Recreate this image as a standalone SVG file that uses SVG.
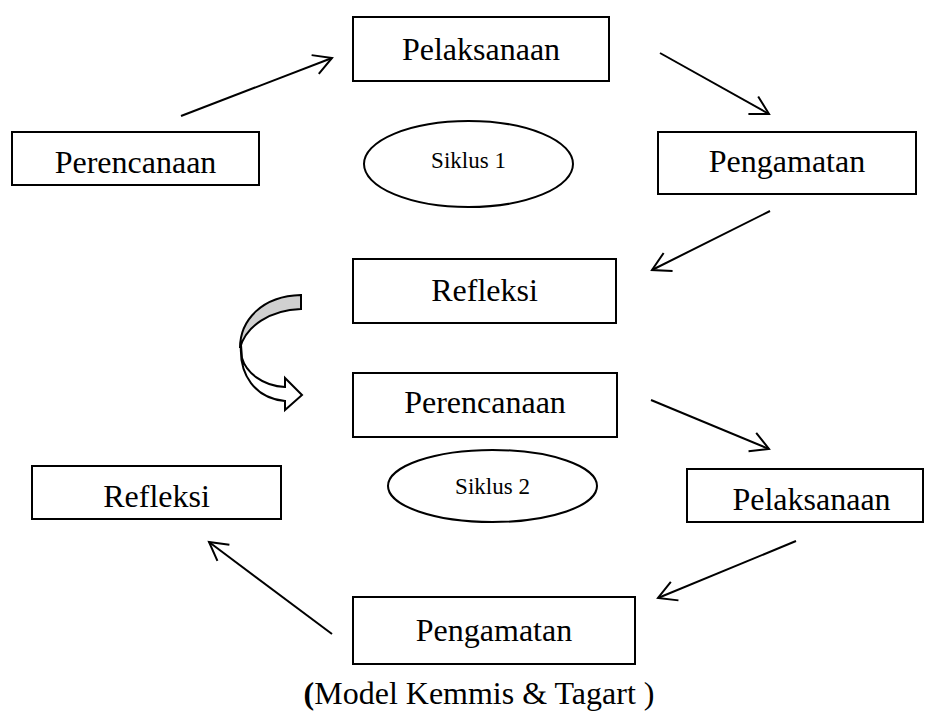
<svg xmlns="http://www.w3.org/2000/svg" width="926" height="711" viewBox="0 0 926 711">
<style>
.box{fill:#fff;stroke:#000;stroke-width:2}
.ell{fill:#fff;stroke:#000;stroke-width:2}
.t{font-family:"Liberation Serif","Times New Roman",serif;font-size:32px;fill:#000;text-anchor:middle}
.s{font-family:"Liberation Serif","Times New Roman",serif;font-size:23px;fill:#000;text-anchor:middle}
.arr{fill:none;stroke:#000;stroke-width:2;marker-end:url(#ah)}
</style>
<defs>
<marker id="ah" markerUnits="userSpaceOnUse" viewBox="-22 -12 24 24" refX="0" refY="0" markerWidth="24" markerHeight="24" orient="auto" overflow="visible">
<path d="M-18,-10 L0,0 L-18,10" fill="none" stroke="#000" stroke-width="2"/>
</marker>
</defs>
<g id="connectors">
<line class="arr" x1="181" y1="116" x2="332" y2="58"/>
<line class="arr" x1="660" y1="53" x2="769" y2="114"/>
<line class="arr" x1="770" y1="211" x2="652" y2="270"/>
<line class="arr" x1="651" y1="400" x2="769" y2="449"/>
<line class="arr" x1="332" y1="634" x2="209" y2="542"/>
<line class="arr" x1="796" y1="541" x2="658" y2="598"/>
<g id="curved-arrow" stroke="#000" stroke-width="2" stroke-linejoin="miter">
<path d="M301,295 C262,296 240,320 240,348 C246,326 270,310 301,309 Z" fill="#d0d0d0"/>
<path d="M241,345 C239,375 255,398 285,401 L285,410 L302,395 L285,378 L285,387 C262,386 246,372 242,358 Z" fill="#fff"/>
</g>
</g>
<g id="perencanaan1"><rect class="box" x="12" y="132" width="247" height="53"/><text class="t" x="135.5" y="173">Perencanaan</text></g>
<g id="pelaksanaan1"><rect class="box" x="353" y="17" width="256" height="64"/><text class="t" x="481" y="60">Pelaksanaan</text></g>
<g id="siklus1"><ellipse class="ell" cx="468.5" cy="164" rx="104.5" ry="43"/><text class="s" x="468.5" y="168">Siklus 1</text></g>
<g id="pengamatan1"><rect class="box" x="658" y="132" width="258" height="62"/><text class="t" x="787" y="172">Pengamatan</text></g>
<g id="refleksi1"><rect class="box" x="353" y="259" width="263" height="64"/><text class="t" x="484.5" y="301">Refleksi</text></g>
<g id="perencanaan2"><rect class="box" x="353" y="373" width="264" height="64"/><text class="t" x="485" y="413">Perencanaan</text></g>
<g id="siklus2"><ellipse class="ell" cx="492.5" cy="486" rx="104.5" ry="36"/><text class="s" x="492.5" y="494">Siklus 2</text></g>
<g id="pelaksanaan2"><rect class="box" x="687" y="469" width="236" height="53"/><text class="t" x="811.5" y="510">Pelaksanaan</text></g>
<g id="refleksi2"><rect class="box" x="32" y="466" width="249" height="53"/><text class="t" x="156.5" y="507">Refleksi</text></g>
<g id="pengamatan2"><rect class="box" x="353" y="597" width="282" height="67"/><text class="t" x="494" y="641">Pengamatan</text></g>
<text class="t" x="479" y="704"><tspan font-weight="bold">(</tspan>Model Kemmis &amp; Tagart )</text>
</svg>
